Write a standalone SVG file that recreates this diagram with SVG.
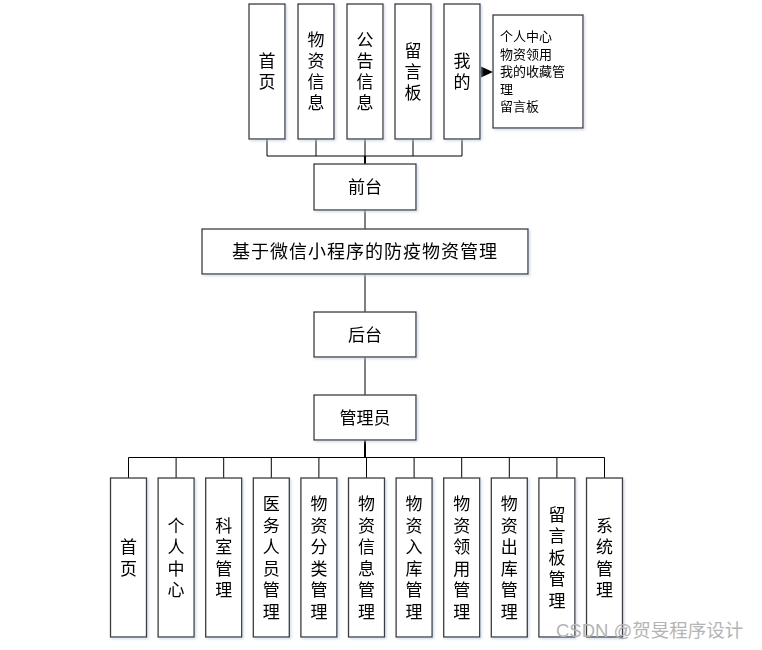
<svg xmlns="http://www.w3.org/2000/svg" width="762" height="650" viewBox="0 0 762 650">
<style>
.box{fill:#fff;stroke:#3a3a3a;stroke-width:1.3}
.t{font-family:"Noto Sans CJK SC","Noto Sans",sans-serif;fill:#000;text-anchor:middle}
.v{font-size:17px;writing-mode:vertical-rl;letter-spacing:4px}
.vb{font-size:17px;writing-mode:vertical-rl;letter-spacing:4.5px}
.s{font-family:"Noto Sans CJK SC","Noto Sans",sans-serif;font-size:13px;fill:#000}
.ln{stroke:#000;stroke-width:1;fill:none}
.th{stroke:#000;stroke-width:2;fill:none}
.wm{font-family:"Liberation Sans","Noto Sans CJK SC",sans-serif;font-size:18.5px;fill:#b4b4b4}
</style>
<defs>
<filter id="sh" x="-10%" y="-10%" width="130%" height="130%">
<feDropShadow dx="1.5" dy="1.5" stdDeviation="1" flood-color="#b8c8e0" flood-opacity="0.6"/>
</filter>
</defs>
<rect width="762" height="650" fill="#fff"/>
<g id="connectors">
<path class="ln" d="M267,139V156M316,139V156M365,139V156M413,139V156M462,139V156M267,156H462"/>
<path class="th" d="M365,156V164"/>
<path class="ln" d="M365,210V229M365,274V312M365,357V395"/>
<path class="th" d="M365,440V457.5"/>
<path class="ln" d="M128.5,457.5H604.5M128.5,457.5V478M176.1,457.5V478M223.7,457.5V478M271.3,457.5V478M318.9,457.5V478M366.5,457.5V478M414.1,457.5V478M461.7,457.5V478M509.3,457.5V478M556.9,457.5V478M604.5,457.5V478"/>
<path class="ln" d="M480,72H483"/>
<polygon points="481,66.5 493,72 481,77.5" fill="#000"/>
</g>
<g filter="url(#sh)">
<g id="n-home"><rect class="box" x="249" y="4" width="36" height="135"/><text class="t v" x="267" y="73.5">首页</text></g>
<g id="n-wzxx"><rect class="box" x="298" y="4" width="36" height="135"/><text class="t v" x="316" y="73.5">物资信息</text></g>
<g id="n-ggxx"><rect class="box" x="347" y="4" width="36" height="135"/><text class="t v" x="365" y="73.5">公告信息</text></g>
<g id="n-lyb"><rect class="box" x="395" y="4" width="36" height="135"/><text class="t v" x="413" y="73.5">留言板</text></g>
<g id="n-wode"><rect class="box" x="444" y="4" width="36" height="135"/><text class="t v" x="462" y="73.5">我的</text></g>
<g id="n-wode-list"><rect class="box" x="493" y="15" width="90" height="113"/>
<text class="s" x="500" y="41">个人中心</text>
<text class="s" x="500" y="58.5">物资领用</text>
<text class="s" x="500" y="76">我的收藏管</text>
<text class="s" x="500" y="93.5">理</text>
<text class="s" x="500" y="111">留言板</text></g>
<g id="n-qiantai"><rect class="box" x="314" y="164" width="102" height="46"/><text class="t" x="365" y="193" font-size="17">前台</text></g>
<g id="n-title"><rect class="box" x="202" y="229" width="326" height="45"/><text class="t" x="365" y="258" font-size="18" letter-spacing="1">基于微信小程序的防疫物资管理</text></g>
<g id="n-houtai"><rect class="box" x="314" y="312" width="102" height="45"/><text class="t" x="365" y="341" font-size="17">后台</text></g>
<g id="n-admin"><rect class="box" x="314" y="395" width="102" height="45"/><text class="t" x="365" y="424" font-size="17">管理员</text></g>

<g id="b1"><rect class="box" x="110.5" y="478" width="36" height="159"/><text class="t vb" x="128.5" y="559.7">首页</text></g>
<g id="b2"><rect class="box" x="158.1" y="478" width="36" height="159"/><text class="t vb" x="176.1" y="559.7">个人中心</text></g>
<g id="b3"><rect class="box" x="205.7" y="478" width="36" height="159"/><text class="t vb" x="223.7" y="559.7">科室管理</text></g>
<g id="b4"><rect class="box" x="253.3" y="478" width="36" height="159"/><text class="t vb" x="271.3" y="559.7">医务人员管理</text></g>
<g id="b5"><rect class="box" x="300.9" y="478" width="36" height="159"/><text class="t vb" x="318.9" y="559.7">物资分类管理</text></g>
<g id="b6"><rect class="box" x="348.5" y="478" width="36" height="159"/><text class="t vb" x="366.5" y="559.7">物资信息管理</text></g>
<g id="b7"><rect class="box" x="396.1" y="478" width="36" height="159"/><text class="t vb" x="414.1" y="559.7">物资入库管理</text></g>
<g id="b8"><rect class="box" x="443.7" y="478" width="36" height="159"/><text class="t vb" x="461.7" y="559.7">物资领用管理</text></g>
<g id="b9"><rect class="box" x="491.3" y="478" width="36" height="159"/><text class="t vb" x="509.3" y="559.7">物资出库管理</text></g>
<g id="b10"><rect class="box" x="538.9" y="478" width="36" height="159"/><text class="t vb" x="556.9" y="559.7">留言板管理</text></g>
<g id="b11"><rect class="box" x="586.5" y="478" width="36" height="159"/><text class="t vb" x="604.5" y="559.7">系统管理</text></g>
</g>
<text class="wm" x="556" y="637">CSDN @贺旻程序设计</text>
</svg>
